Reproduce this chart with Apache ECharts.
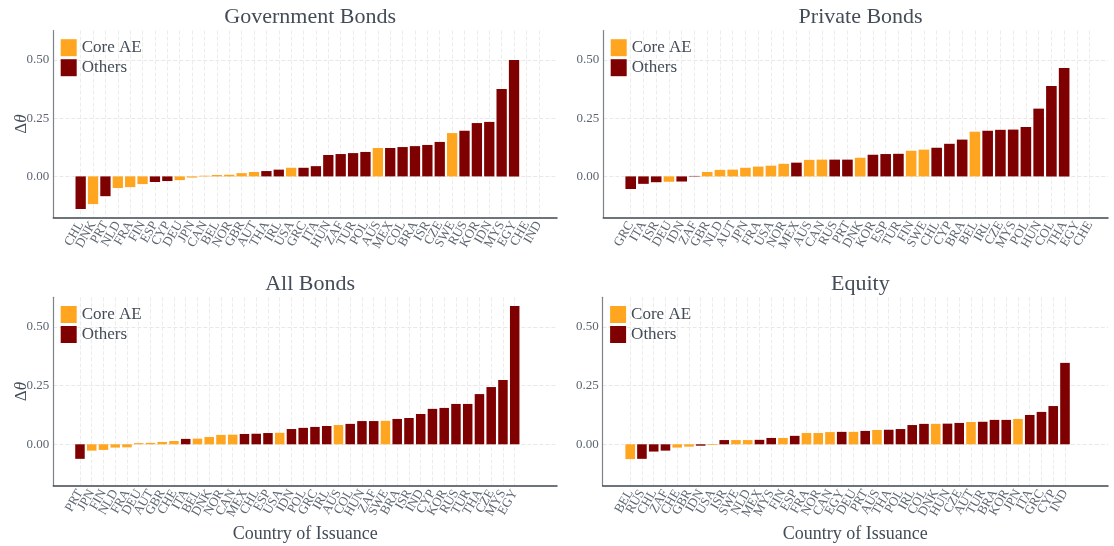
<!DOCTYPE html>
<html>
<head>
<meta charset="utf-8">
<title>Delta theta by country of issuance</title>
<script src="https://cdn.jsdelivr.net/npm/echarts@6/dist/echarts.min.js"></script>
<style>
  html, body { margin: 0; padding: 0; background: #fff; }
  #chart { width: 1114px; height: 546px; }
</style>
</head>
<body>
<div id="chart"></div>
<script>
// values, sorted as in the picture
const govCountries = ['CHL','DNK','PRT','NLD','FRA','FIN','ESP','CYP','DEU','JPN','CAN','BEL','NOR','GBR','AUT','THA','IRL','USA','GRC','ITA','HUN','ZAF','TUR','POL','AUS','MEX','COL','BRA','ISR','CZE','SWE','RUS','KOR','IDN','MYS','EGY','CHE','IND'];
const govValues = [-0.140,-0.119,-0.085,-0.050,-0.046,-0.033,-0.024,-0.020,-0.016,-0.005,0.003,0.006,0.007,0.014,0.019,0.023,0.029,0.037,0.037,0.044,0.092,0.096,0.100,0.105,0.122,0.122,0.126,0.130,0.135,0.148,0.186,0.196,0.229,0.234,0.375,0.500,null,null];

const privCountries = ['GRC','ITA','ISR','DEU','IDN','ZAF','GBR','NLD','AUT','JPN','FRA','USA','NOR','MEX','AUS','CAN','RUS','PRT','DNK','KOR','ESP','TUR','FIN','SWE','CHL','CYP','BRA','BEL','IRL','CZE','MYS','POL','HUN','COL','THA','EGY','CHE'];
const privValues = [-0.054,-0.032,-0.025,-0.023,-0.022,0.002,0.019,0.028,0.029,0.037,0.042,0.046,0.054,0.059,0.071,0.072,0.072,0.072,0.080,0.093,0.096,0.097,0.110,0.115,0.123,0.140,0.158,0.192,0.196,0.200,0.201,0.212,0.291,0.388,0.466,null,null];

const allCountries = ['PRT','JPN','FIN','NLD','FRA','DEU','AUT','GBR','CHE','ITA','BEL','DNK','NOR','CAN','MEX','CHL','ESP','USA','IDN','POL','GRC','IRL','AUS','COL','HUN','ZAF','SWE','BRA','ISR','IND','CYP','KOR','RUS','TUR','THA','CZE','MYS','EGY'];
const allValues = [-0.062,-0.027,-0.024,-0.014,-0.013,0.005,0.006,0.010,0.014,0.023,0.024,0.031,0.040,0.041,0.044,0.045,0.048,0.049,0.065,0.070,0.074,0.078,0.082,0.087,0.099,0.099,0.100,0.108,0.112,0.129,0.151,0.155,0.172,0.172,0.214,0.244,0.274,0.589];

const eqCountries = ['BEL','RUS','CHL','ZAF','CHE','GBR','IDN','USA','ISR','SWE','NLD','MEX','MYS','FIN','ESP','FRA','NOR','CAN','EGY','DEU','PRT','AUS','THA','POL','IRL','COL','DNK','HUN','CZE','AUT','TUR','BRA','KOR','JPN','ITA','GRC','CYP','IND'];
const eqValues = [-0.063,-0.062,-0.031,-0.027,-0.014,-0.010,-0.006,-0.003,0.018,0.018,0.018,0.019,0.027,0.027,0.036,0.048,0.048,0.052,0.053,0.053,0.057,0.061,0.062,0.065,0.082,0.087,0.087,0.088,0.091,0.095,0.096,0.104,0.104,0.108,0.125,0.138,0.163,0.347];

const coreAE = ['AUS','AUT','BEL','CAN','CHE','DEU','DNK','FIN','FRA','GBR','JPN','NLD','NOR','SWE','USA'];
const yTicks = [0, 0.25, 0.5];

const FONT = 'Liberation Serif';
const TEXT = '#434c57';
const LABEL = '#5d6670';
const CORE_COLOR = '#ffa51f';
const OTHER_COLOR = '#7f0000';
const Y_MIN = -0.1765;
const Y_MAX = 0.6265;

// plot boxes measured on the reference: left edge, right edge, top, height
const panels = [
  { title: 'Government Bonds', countries: govCountries, values: govValues,
    x0: 53.3, x1: 557, top: 30.5, height: 187, xMin: -1.21, xMax: 39.47, barWidth: 10.3, yName: true, xName: false },
  { title: 'Private Bonds', countries: privCountries, values: privValues,
    x0: 603.3, x1: 1108, top: 30.5, height: 187, xMin: -1.15, xMax: 38.44, barWidth: 10.6, yName: false, xName: false },
  { title: 'All Bonds', countries: allCountries, values: allValues,
    x0: 53.3, x1: 557, top: 297.3, height: 188.4, xMin: -1.27, xMax: 41.6, barWidth: 9.5, yName: true, xName: true },
  { title: 'Equity', countries: eqCountries, values: eqValues,
    x0: 602.7, x1: 1108, top: 297.3, height: 188.4, xMin: -1.34, xMax: 41.66, barWidth: 9.6, yName: false, xName: true }
];

const option = {
  animation: false,
  backgroundColor: '#fff',
  title: [], grid: [], xAxis: [], yAxis: [], legend: [], series: []
};

panels.forEach((p, i) => {
  const plotWidth = p.x1 - p.x0;
  const ticks = p.countries.map((c, k) => k + 1);
  // blank labels at both ends take the min/max overlap check, so every country label stays
  const labelTicks = [p.xMin].concat(ticks, [p.xMax]);

  option.title.push({
    text: p.title,
    left: p.x0 + plotWidth / 2,
    top: p.top - 29,
    textAlign: 'center',
    textStyle: { fontFamily: FONT, fontSize: 22, fontWeight: 'normal', color: TEXT }
  });

  option.grid.push({
    left: p.x0, top: p.top, width: plotWidth, height: p.height,
    containLabel: false, outerBoundsMode: 'none'
  });

  option.xAxis.push({
    type: 'value',
    gridIndex: i,
    min: p.xMin,
    max: p.xMax,
    name: p.xName ? 'Country of Issuance' : '',
    nameLocation: 'middle',
    nameGap: 40,
    nameMoveOverlap: false,
    nameTextStyle: { fontFamily: FONT, fontSize: 18, color: TEXT },
    axisLine: { onZero: false, lineStyle: { color: '#3f4751', width: 1.5 } },
    axisTick: { show: false, customValues: ticks },
    axisLabel: {
      customValues: labelTicks,
      showMinLabel: false,
      showMaxLabel: false,
      hideOverlap: false,
      rotate: 60,
      margin: 5,
      fontFamily: FONT,
      fontSize: 13,
      color: LABEL,
      formatter: (v) => {
        const k = Math.round(v);
        return Math.abs(v - k) < 1e-6 ? (p.countries[k - 1] || '') : '';
      }
    },
    splitLine: { show: true, lineStyle: { color: '#ececec', type: 'dashed', width: 1 } }
  });

  option.yAxis.push({
    type: 'value',
    gridIndex: i,
    min: Y_MIN,
    max: Y_MAX,
    name: p.yName ? 'Δ{t|θ}' : '',
    nameLocation: 'middle',
    nameRotate: 90,
    nameGap: 23,
    nameMoveOverlap: false,
    nameTextStyle: {
      fontFamily: FONT, fontSize: 17, color: TEXT,
      rich: { t: { fontFamily: FONT, fontSize: 17, fontStyle: 'italic', color: TEXT } }
    },
    axisLine: { show: true, onZero: false, lineStyle: { color: '#7d838b', width: 1.2 } },
    axisTick: { show: false, customValues: yTicks },
    axisLabel: {
      customValues: yTicks,
      showMinLabel: true,
      showMaxLabel: true,
      margin: 4,
      fontFamily: FONT,
      fontSize: 13,
      color: LABEL,
      formatter: (v) => v.toFixed(2)
    },
    splitLine: { show: true, lineStyle: { color: '#e8e8e8', type: 'dashed', width: 1 } }
  });

  option.legend.push({
    data: ['Core AE', 'Others'],
    orient: 'vertical',
    left: p.x0 + 7.4,
    top: p.top + 8.7,
    padding: 0,
    itemWidth: 16,
    itemHeight: 17,
    itemGap: 3,
    icon: 'rect',
    textStyle: { fontFamily: FONT, fontSize: 17, color: TEXT }
  });

  const corePts = [];
  const otherPts = [];
  p.countries.forEach((c, k) => {
    const v = p.values[k];
    if (v === null) return;
    (coreAE.includes(c) ? corePts : otherPts).push([k + 1, v]);
  });

  option.series.push({
    name: 'Core AE', type: 'bar', xAxisIndex: i, yAxisIndex: i,
    barWidth: p.barWidth, barGap: '-100%',
    itemStyle: { color: CORE_COLOR }, data: corePts
  });
  option.series.push({
    name: 'Others', type: 'bar', xAxisIndex: i, yAxisIndex: i,
    barWidth: p.barWidth, barGap: '-100%',
    itemStyle: { color: OTHER_COLOR }, data: otherPts
  });
});

const chart = echarts.init(document.getElementById('chart'));
chart.setOption(option);
</script>
</body>
</html>
